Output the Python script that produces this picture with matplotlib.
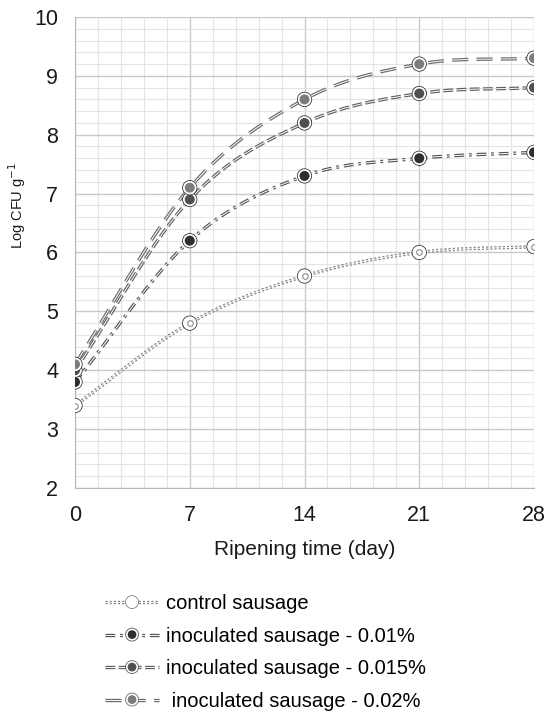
import numpy as np
import matplotlib
matplotlib.use("Agg")
import matplotlib.pyplot as plt
from matplotlib import patheffects as pe
from matplotlib.lines import Line2D
from matplotlib.ticker import MultipleLocator

plt.rcParams['font.family'] = ['Liberation Sans', 'DejaVu Sans']
plt.rcParams['lines.scale_dashes'] = False

days = [0, 7, 14, 21, 28]
control = [3.4, 4.8, 5.6, 6.0, 6.1]
inoc_001 = [3.8, 6.2, 7.3, 7.6, 7.7]
inoc_0015 = [4.0, 6.9, 8.2, 8.7, 8.8]
inoc_002 = [4.1, 7.1, 8.6, 9.2, 9.3]
labels = ["control sausage",
          "inoculated sausage - 0.01%",
          "inoculated sausage - 0.015%",
          " inoculated sausage - 0.02%"]


def smooth(x, y, n=30):
    # Catmull-Rom curve through the points (smoothed line like a spreadsheet)
    x = np.asarray(x, float)
    y = np.asarray(y, float)
    px = np.concatenate([[2 * x[0] - x[1]], x, [2 * x[-1] - x[-2]]])
    py = np.concatenate([[2 * y[0] - y[1]], y, [2 * y[-1] - y[-2]]])
    xs, ys = [], []
    t = np.linspace(0, 1, n)
    for i in range(1, len(px) - 2):
        for p, out in ((px, xs), (py, ys)):
            p0, p1, p2, p3 = p[i - 1], p[i], p[i + 1], p[i + 2]
            out.extend(0.5 * ((2 * p1) + (-p0 + p2) * t
                              + (2 * p0 - 5 * p1 + 4 * p2 - p3) * t ** 2
                              + (-p0 + 3 * p1 - 3 * p2 + p3) * t ** 3))
    return xs, ys


def double(lw_out, color):
    return [pe.Stroke(linewidth=lw_out, foreground=color), pe.Normal()]


series = [
    (control, (0, (1.5, 1.5)), '#808080', 'white'),
    (inoc_001, (0, (7, 3.5, 2, 3.5)), '#555555', '#2e2e2e'),
    (inoc_0015, (0, (7, 2.5)), '#606060', '#505050'),
    (inoc_002, (0, (11.5, 6)), '#6a6a6a', '#7c7c7c'),
]

fig = plt.figure(figsize=(5.5, 7.13), dpi=100)
ax = fig.add_axes([0.1364, 0.3156, 0.8345, 0.6606])

handles = []
for vals, dash, lc, fc in series:
    sx, sy = smooth(days, vals)
    ax.plot(sx, sy, color='white', lw=0.7, linestyle=dash,
            path_effects=double(2.4, lc), zorder=3)
    ax.plot(days, vals, 'o', ms=8.5, mfc=fc, mec='white', mew=1.3,
            path_effects=double(2.4, '#2a2a2a'), zorder=4)
    handles.append(Line2D([0], [0], color='white', lw=0.7, linestyle=dash,
                          path_effects=double(2.4, lc), marker='o', ms=7.5,
                          mfc=fc, mec='white', mew=1.2))

# inner ring of the control markers
ax.plot(days, control, 'o', ms=4, mfc='none', mec='#8a8a8a', mew=0.8, zorder=5)

ax.set_xlim(0, 28)
ax.set_ylim(2, 10)
ax.xaxis.set_major_locator(MultipleLocator(7))
ax.xaxis.set_minor_locator(MultipleLocator(1.4))
ax.yaxis.set_major_locator(MultipleLocator(1))
ax.yaxis.set_minor_locator(MultipleLocator(0.2))
ax.grid(which='major', color='#c8c8c8', lw=1.0, zorder=0)
ax.grid(which='minor', color='#e4e4e4', lw=0.8, zorder=0)
ax.set_axisbelow(True)
for s in ['top', 'right']:
    ax.spines[s].set_visible(False)
for s in ['left', 'bottom']:
    ax.spines[s].set_color('#b8b8b8')
ax.tick_params(which='both', length=0, labelsize=15.5, colors='#1a1a1a')
ax.tick_params(axis='y', pad=12)
ax.tick_params(axis='x', pad=12)
ax.set_xlabel('Ripening time (day)', fontsize=15, color='#1a1a1a', labelpad=10.5)
ax.set_ylabel('Log CFU g$^{-1}$', fontsize=10.5, color='#1a1a1a')
ax.yaxis.set_label_coords(-0.102, 0.599)

fig.legend(handles, labels, loc='upper left', bbox_to_anchor=(0.176, 0.178),
           frameon=False, fontsize=14.5, handlelength=2.7, handletextpad=0.35,
           labelspacing=0.67, borderaxespad=0)

fig.savefig('out.png', dpi=100)
